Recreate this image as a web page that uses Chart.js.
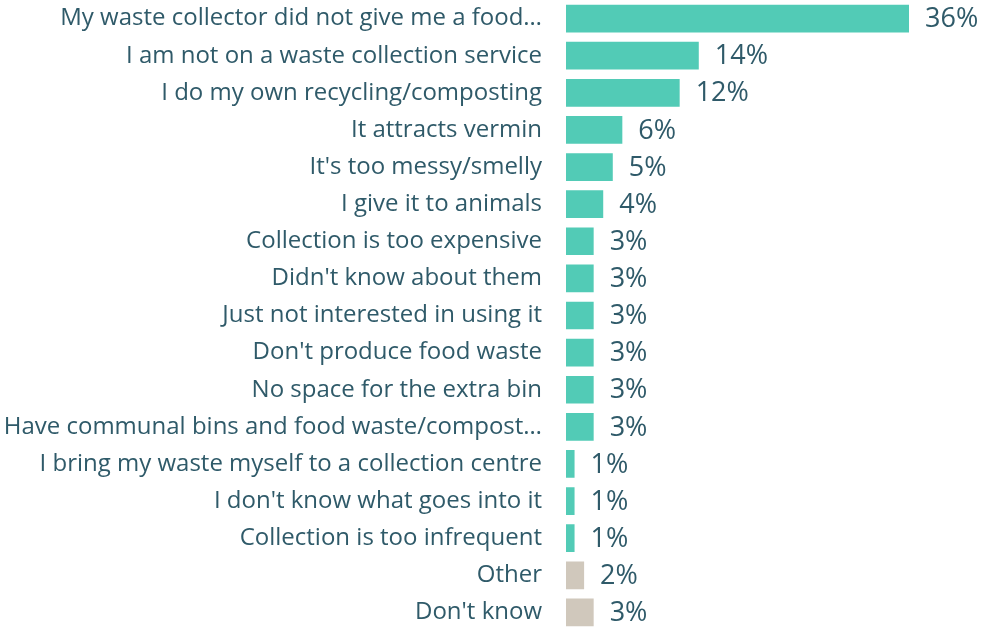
<!DOCTYPE html>
<html>
<head>
<meta charset="utf-8">
<script src="https://cdn.jsdelivr.net/npm/chart.js@4"></script>
<style>
  html, body { margin: 0; padding: 0; background: #fff; }
  #wrap { width: 981px; height: 631px; }
</style>
</head>
<body>
<div id="wrap"><canvas id="reasonsChart"></canvas></div>
<script>
// Reasons for not using a food waste collection (share of respondents, %)
const categories = [
    "My waste collector did not give me a food\u2026",
    "I am not on a waste collection service",
    "I do my own recycling/composting",
    "It attracts vermin",
    "It's too messy/smelly",
    "I give it to animals",
    "Collection is too expensive",
    "Didn't know about them",
    "Just not interested in using it",
    "Don't produce food waste",
    "No space for the extra bin",
    "Have communal bins and food waste/compost\u2026",
    "I bring my waste myself to a collection centre",
    "I don't know what goes into it",
    "Collection is too infrequent",
    "Other",
    "Don't know"
];
const percentages = [36, 14, 12, 6, 5, 4, 3, 3, 3, 3, 3, 3, 1, 1, 1, 2, 3];
// the last two rows are the "Other"/"Don't know" answers, shown in grey
const barColors = categories.map((c, i) => i >= 15 ? '#d0c8bc' : '#52cbb6');

const textColor = '#2f5a69';
const fontFamily = '"Open Sans", Lato, sans-serif';

// Draws the "36%" style labels just past the end of each bar
const valueLabels = {
    id: 'valueLabels',
    afterDatasetsDraw(chart) {
        const ctx = chart.ctx;
        const meta = chart.getDatasetMeta(0);
        ctx.save();
        ctx.fillStyle = textColor;
        ctx.font = '27px ' + fontFamily;
        ctx.textAlign = 'left';
        ctx.textBaseline = 'middle';
        meta.data.forEach((bar, i) => {
            ctx.fillText(percentages[i] + '%', bar.x + 15, bar.y + 1);
        });
        ctx.restore();
    }
};

new Chart(document.getElementById('reasonsChart').getContext('2d'), {
    type: 'bar',
    data: {
        labels: categories,
        datasets: [{
            data: percentages,
            backgroundColor: barColors,
            borderColor: '#ffffff',
            borderWidth: 1,
            barPercentage: 0.8,
            categoryPercentage: 1.0
        }]
    },
    options: {
        indexAxis: 'y',
        responsive: true,
        maintainAspectRatio: false,
        animation: false,
        layout: { padding: { top: 0, bottom: 0, left: 0, right: 71 } },
        plugins: {
            legend: { display: false },
            tooltip: { enabled: false }
        },
        scales: {
            x: {
                display: false,
                min: 0,
                max: 36
            },
            y: {
                grid: { display: false, drawTicks: false },
                border: { display: false },
                ticks: {
                    color: textColor,
                    padding: 24,
                    font: { family: fontFamily, size: 24 }
                },
                afterFit(scale) {
                    // fixed label column, and no extra room above/below the rows
                    scale.width = 566;
                    scale.paddingTop = 0;
                    scale.paddingBottom = 0;
                }
            }
        }
    },
    plugins: [valueLabels]
});
</script>
</body>
</html>
